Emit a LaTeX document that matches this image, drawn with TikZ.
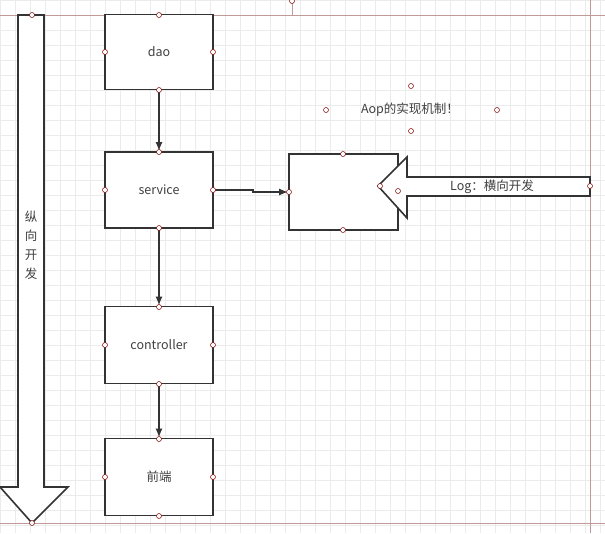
\documentclass[tikz,border=0pt]{standalone}
\usepackage{fontspec}
\setmainfont{Noto Sans CJK SC}
\usetikzlibrary{arrows.meta}
\begin{document}
\begin{tikzpicture}[x=1pt,y=-1pt,
  box/.style={draw=black!80,line width=1.6pt,fill=white},
  conn/.style={draw=black!80,line width=2pt,-{Latex[length=9pt,width=7pt]}},
  hd/.style={circle,draw=red!50!black,fill=white,inner sep=0pt,minimum size=5pt,line width=0.5pt},
  frame/.style={draw=red!40!black!40,line width=0.6pt},
  lbl/.style={font=\fontsize{12.5}{15}\selectfont,text=black!75}]
\useasboundingbox (0,0) rectangle (605,533);
\fill[white] (0,0) rectangle (605,533);
\foreach \i in {0,15,...,600} \draw[black!8,line width=0.4pt] (\i,0) -- (\i,533);
\foreach \i in {0,15,...,530} \draw[black!8,line width=0.4pt] (0,\i) -- (605,\i);
% frame lines
\draw[frame] (0,15) -- (605,15);
\draw[frame] (590,0) -- (590,533);
\draw[frame] (0,523) -- (605,523);
\draw[frame] (292,0) -- (292,15);
% big vertical arrow
\draw[box] (18,15) -- (44,15) -- (44,487) -- (68,487) -- (32,523) -- (0,487) -- (18,487) -- cycle;
\node[lbl,align=center,font=\fontsize{12.5}{19}\selectfont] (vtext) at (31,245) {纵\\向\\开\\发};
% boxes
\node[box,minimum width=108pt,minimum height=75pt,lbl] (dao) at (159,52) {dao};
\node[box,minimum width=108pt,minimum height=76pt,lbl] (service) at (159,190) {service};
\node[box,minimum width=108pt,minimum height=77pt,lbl] (ctrl) at (159,345) {controller};
\node[box,minimum width=108pt,minimum height=77pt,lbl] (fe) at (159,477) {前端};
\node[box,minimum width=109pt,minimum height=76pt] (mid) at (343.5,192) {};
% connectors
\draw[conn] (dao.south) -- (service.north);
\draw[conn] (service.south) -- (ctrl.north);
\draw[conn] (ctrl.south) -- (fe.north);
\draw[conn] (service.east) -- ++(39,0) |- (mid.west);
% right arrow
\draw[box] (590,177) -- (407,177) -- (407,157) -- (378,186) -- (407,218) -- (407,196) -- (590,196) -- cycle;
\node[lbl] (log) at (492,187) {Log：横向开发};
\node[lbl] (aop) at (410,110) {Aop的实现机制！};
% selection handles
\foreach \p in {(32,15),(32,523),(159,15),(105,52),(213,52),(159,90),(159,152),(105,190),(213,190),(159,228),(159,307),(105,345),(213,345),(159,384),(159,439),(105,477),(213,477),(159,516),(343,154),(289,192),(343,230),(380,186),(398,191),(590,186),(326,110),(497,110),(411,86),(411,131),(292,1)}
  \node[hd] at \p {};
\end{tikzpicture}
\end{document}
